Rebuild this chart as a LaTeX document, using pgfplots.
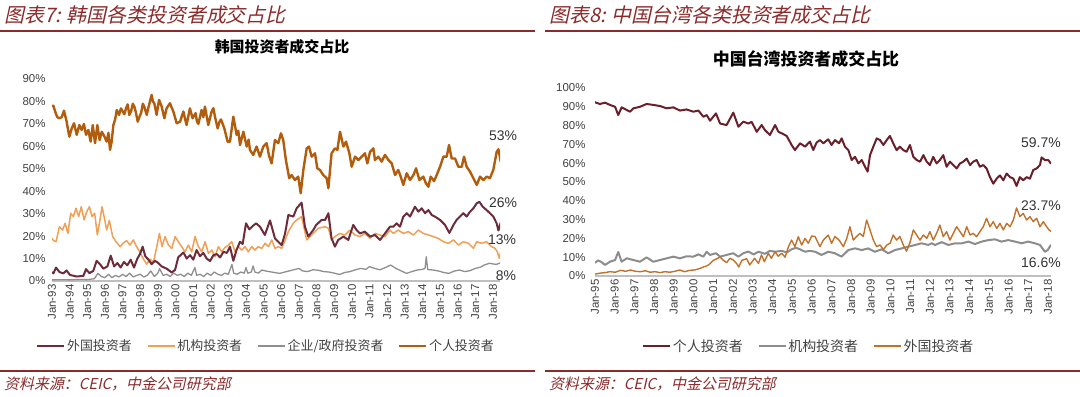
\documentclass[border=0pt]{standalone}
\usepackage{pgfplots}
\pgfplotsset{compat=1.18}
\usepackage{fontspec}
\setmainfont{Liberation Sans}
\newfontfamily\cjk{Noto Sans CJK SC}
\newfontfamily\cjkit{Noto Sans CJK SC}[FakeSlant=0.22]
\definecolor{hdr}{HTML}{8B2A2A}
\definecolor{kind}{HTML}{B25D0E}
\definecolor{kfor}{HTML}{6E2C3A}
\definecolor{kins}{HTML}{F0A055}
\definecolor{kgov}{HTML}{8F8F8F}
\definecolor{tind}{HTML}{6A1F2B}
\definecolor{tins}{HTML}{8C8C8C}
\definecolor{tfor}{HTML}{C0712C}
\definecolor{lbl}{HTML}{404040}
\pgfplotsset{
  common/.style={
    scale only axis, enlargelimits=false,
    axis x line*=bottom, axis y line*=left,
    x axis line style={draw=black!25, line width=1.5bp, -},
    y axis line style={draw=none},
    major tick length=0pt,
    tick label style={font=\fontsize{11.5}{11.5}\selectfont, text=lbl},
    /pgf/number format/assume math mode=true,
    xticklabel style={rotate=90, anchor=east},
    yticklabel style={anchor=east},
    legend style={draw=none, fill=none, font=\cjk\fontsize{13}{15}\selectfont, text=lbl,
      /tikz/every even column/.append style={column sep=13bp}},
    legend columns=4,
    legend image code/.code={\draw[#1, line width=1.6bp] (0bp,0bp) -- (27bp,0bp);},
    every axis plot/.append style={line join=round},
  }
}
\begin{document}
\begin{tikzpicture}[x=1bp,y=1bp]
\useasboundingbox (0,0) rectangle (1080,396);
% ---------------- Korea ----------------
\begin{axis}[common, at={(52bp,115bp)}, anchor=south west,
  width=448bp, height=202bp, xmin=1993, xmax=2018.4, ymin=0, ymax=90,
  ytick={0,10,...,90}, yticklabels={0\%,10\%,20\%,30\%,40\%,50\%,60\%,70\%,80\%,90\%},
  yticklabel style={xshift=-3bp},
  xtick={1993,...,2018},
  xticklabels={Jan-93,Jan-94,Jan-95,Jan-96,Jan-97,Jan-98,Jan-99,Jan-00,Jan-01,Jan-02,Jan-03,Jan-04,Jan-05,Jan-06,Jan-07,Jan-08,Jan-09,Jan-10,Jan-11,Jan-12,Jan-13,Jan-14,Jan-15,Jan-16,Jan-17,Jan-18},
  legend style={at={(0.478,-0.322)}, anchor=center},
]
\addplot[kgov, line width=1.3bp, forget plot] table {
1993.00 0.5
1993.50 0.6
1994.00 0.5
1994.50 0.7
1995.00 0.6
1995.40 1.0
1995.60 3.4
1995.80 2.0
1996.00 1.5
1996.20 3.0
1996.40 1.5
1996.60 2.5
1996.80 1.8
1997.00 3.0
1997.20 2.0
1997.40 3.5
1997.60 1.8
1997.80 2.5
1998.00 3.0
1998.20 1.8
1998.40 2.5
1998.60 4.5
1998.80 2.0
1999.00 3.5
1999.10 5.5
1999.30 2.5
1999.50 3.0
1999.70 2.0
1999.90 3.5
2000.10 2.5
2000.30 3.0
2000.50 2.0
2000.70 3.5
2000.90 2.5
2001.10 6.0
2001.20 2.5
2001.40 3.0
2001.60 2.0
2001.80 3.5
2002.00 2.5
2002.20 4.0
2002.40 3.0
2002.60 2.5
2002.80 3.5
2003.00 3.0
2003.20 7.4
2003.30 3.5
2003.50 3.0
2003.70 4.0
2003.90 3.5
2004.00 6.0
2004.10 3.5
2004.30 4.0
2004.40 6.7
2004.50 4.0
2004.70 3.5
2004.90 4.9
2005.10 4.5
2005.30 4.2
2005.60 3.8
2005.90 3.4
2006.20 4.0
2006.50 4.6
2006.80 5.2
2007.00 5.6
2007.20 4.5
2007.50 4.2
2007.80 5.0
2008.10 4.8
2008.40 4.2
2008.70 4.0
2009.00 3.5
2009.30 2.9
2009.60 3.8
2009.90 4.2
2010.20 5.0
2010.50 5.6
2010.80 5.2
2011.00 6.4
2011.30 5.6
2011.60 5.0
2011.90 6.0
2012.20 7.1
2012.50 5.6
2012.80 4.5
2013.10 3.4
2013.40 4.2
2013.70 4.9
2014.00 5.2
2014.15 5.6
2014.22 10.8
2014.30 5.1
2014.60 4.9
2014.90 4.5
2015.20 3.8
2015.50 3.4
2015.80 4.4
2016.10 4.9
2016.40 4.2
2016.70 4.6
2017.00 5.6
2017.30 6.2
2017.50 7.1
2017.80 7.9
2018.00 7.6
2018.20 7.4
2018.44 8.2
};
\addplot[kins, line width=1.5bp, forget plot] table {
1993.00 19.0
1993.08 18.0
1993.23 17.5
1993.42 24.2
1993.60 22.7
1993.74 25.7
1993.90 21.2
1994.06 30.2
1994.21 28.7
1994.36 32.4
1994.51 28.7
1994.66 33.1
1994.82 27.2
1994.97 30.9
1995.12 33.1
1995.27 28.7
1995.42 30.2
1995.57 20.5
1995.72 27.2
1995.84 33.1
1995.97 28.0
1996.10 22.7
1996.25 27.0
1996.44 19.8
1996.63 17.5
1996.86 15.3
1997.05 17.0
1997.23 18.0
1997.42 16.0
1997.61 18.3
1997.80 15.3
1997.99 12.7
1998.18 9.8
1998.37 7.5
1998.56 9.8
1998.75 8.3
1998.94 15.3
1999.09 21.2
1999.24 15.3
1999.41 19.8
1999.60 16.0
1999.79 14.5
1999.98 19.8
2000.16 17.5
2000.35 15.3
2000.54 13.0
2000.73 16.0
2000.92 13.0
2001.11 19.8
2001.30 15.3
2001.49 13.0
2001.68 17.5
2001.87 12.3
2002.06 13.8
2002.24 10.8
2002.43 15.3
2002.62 13.0
2002.81 15.0
2003.00 16.0
2003.19 17.5
2003.38 13.0
2003.57 15.3
2003.76 13.8
2003.95 15.3
2004.13 13.0
2004.32 15.3
2004.51 13.8
2004.70 15.3
2004.89 14.5
2005.08 16.8
2005.27 15.3
2005.46 18.3
2005.64 14.5
2005.83 15.3
2006.02 14.6
2006.21 18.0
2006.40 22.0
2006.68 25.7
2006.87 27.2
2007.15 28.7
2007.44 18.3
2007.81 21.2
2008.10 23.5
2008.48 24.2
2008.67 23.5
2008.85 18.3
2009.04 19.8
2009.33 21.2
2009.61 20.5
2009.89 22.7
2010.18 20.5
2010.46 19.8
2010.74 21.2
2011.03 19.0
2011.31 21.2
2011.60 20.5
2011.88 19.8
2012.16 22.7
2012.35 21.2
2012.63 22.7
2012.92 21.2
2013.20 22.0
2013.49 20.5
2013.77 22.7
2014.05 21.2
2014.34 20.5
2014.62 19.8
2014.90 19.0
2015.19 17.5
2015.47 16.8
2015.76 18.3
2016.04 16.0
2016.32 17.5
2016.61 16.8
2016.89 14.6
2017.08 17.5
2017.36 16.8
2017.64 17.5
2017.92 15.3
2018.11 14.6
2018.25 13.0
2018.36 10.1
2018.44 13.0
};
\addplot[kfor, line width=2bp, forget plot] table {
1993.00 4.0
1993.08 3.4
1993.23 6.0
1993.42 4.0
1993.64 3.4
1993.83 4.7
1994.02 2.7
1994.40 2.0
1994.78 2.3
1994.93 5.3
1995.12 3.5
1995.34 4.5
1995.53 9.0
1995.72 7.5
1995.91 5.5
1996.14 6.5
1996.33 11.3
1996.52 6.5
1996.71 8.0
1996.89 6.0
1997.08 8.5
1997.27 7.0
1997.46 9.5
1997.65 6.0
1997.84 10.0
1997.99 12.0
1998.14 15.3
1998.29 11.0
1998.46 9.6
1998.65 7.5
1998.84 9.0
1999.03 8.0
1999.22 6.5
1999.50 5.5
1999.79 3.8
1999.98 5.0
2000.16 10.6
2000.45 12.7
2000.64 10.0
2000.83 11.5
2001.01 9.5
2001.20 13.8
2001.39 11.0
2001.58 12.5
2001.77 10.0
2001.96 8.9
2002.15 11.5
2002.34 12.0
2002.53 10.5
2002.72 13.0
2002.91 12.5
2003.09 15.3
2003.28 9.0
2003.47 14.0
2003.66 17.5
2003.81 16.5
2004.00 25.7
2004.19 23.0
2004.38 24.5
2004.57 25.7
2004.79 24.2
2005.07 20.5
2005.36 27.0
2005.64 19.0
2005.83 17.5
2006.02 16.0
2006.21 21.0
2006.40 29.4
2006.68 28.7
2006.87 32.4
2007.15 34.9
2007.34 24.2
2007.53 19.8
2007.81 22.7
2007.98 25.0
2008.29 27.2
2008.48 27.2
2008.67 30.2
2008.85 19.0
2009.04 15.3
2009.23 18.3
2009.52 19.8
2009.80 18.3
2010.08 25.0
2010.27 22.7
2010.46 21.2
2010.74 22.0
2011.03 19.8
2011.31 20.5
2011.60 18.3
2011.88 21.2
2012.16 24.2
2012.35 24.2
2012.54 25.7
2012.73 24.2
2012.92 28.7
2013.11 30.2
2013.30 28.7
2013.58 33.1
2013.77 30.9
2013.96 32.4
2014.15 30.2
2014.34 31.6
2014.53 29.4
2014.71 28.7
2015.00 27.2
2015.28 25.0
2015.53 21.4
2015.76 25.0
2015.94 27.2
2016.13 28.7
2016.32 30.2
2016.51 28.7
2016.70 30.9
2016.89 32.4
2017.08 34.6
2017.23 35.3
2017.42 33.1
2017.64 31.6
2017.83 30.2
2018.02 28.7
2018.21 25.7
2018.31 22.5
2018.44 26.0
};
\addplot[kind, line width=2.4bp, forget plot] table {
1993.00 78.0
1993.08 78.1
1993.20 75.0
1993.30 73.0
1993.42 72.5
1993.55 73.0
1993.68 75.9
1993.83 71.0
1993.98 64.3
1994.12 68.0
1994.25 70.3
1994.40 65.1
1994.55 69.5
1994.68 67.3
1994.81 70.0
1994.93 65.1
1995.06 67.3
1995.19 62.1
1995.31 69.5
1995.44 61.4
1995.57 69.5
1995.70 62.8
1995.82 66.5
1995.96 64.6
1996.10 62.1
1996.20 66.0
1996.29 58.4
1996.38 62.0
1996.48 69.5
1996.58 72.0
1996.67 76.2
1996.80 74.0
1996.91 76.9
1997.10 74.3
1997.20 77.0
1997.29 78.7
1997.38 74.0
1997.48 75.5
1997.58 79.0
1997.67 77.7
1997.76 75.0
1997.86 71.0
1997.95 73.0
1998.05 74.8
1998.15 79.0
1998.23 77.7
1998.37 74.0
1998.50 78.4
1998.65 82.9
1998.72 80.0
1998.80 79.2
1998.93 74.0
1999.07 80.7
1999.22 77.7
1999.37 72.5
1999.50 77.0
1999.69 79.2
1999.80 77.0
1999.88 75.5
2000.07 70.3
2000.26 71.0
2000.45 75.5
2000.55 72.0
2000.63 69.5
2000.82 76.9
2000.97 72.5
2001.14 74.8
2001.22 71.0
2001.30 70.0
2001.48 76.2
2001.58 73.0
2001.67 77.7
2001.86 69.5
2002.05 75.5
2002.15 77.0
2002.24 73.2
2002.39 68.0
2002.50 71.0
2002.58 72.0
2002.77 68.0
2002.96 62.0
2003.09 62.1
2003.28 73.2
2003.47 65.1
2003.56 67.0
2003.66 60.6
2003.85 66.5
2004.04 59.9
2004.15 63.0
2004.22 58.4
2004.41 56.2
2004.50 58.0
2004.60 59.9
2004.79 55.4
2004.98 59.9
2005.17 61.4
2005.30 56.0
2005.45 52.4
2005.64 62.8
2005.83 61.4
2005.98 65.8
2006.11 62.8
2006.26 53.9
2006.45 45.8
2006.59 47.2
2006.77 45.0
2006.96 46.5
2007.10 39.1
2007.25 49.5
2007.44 59.1
2007.57 59.9
2007.72 55.4
2007.91 56.9
2008.04 50.2
2008.19 49.5
2008.38 47.2
2008.57 45.8
2008.67 41.3
2008.85 56.9
2009.04 59.1
2009.18 58.4
2009.33 66.5
2009.52 59.9
2009.67 62.1
2009.86 56.9
2009.99 50.9
2010.18 55.4
2010.37 53.9
2010.56 55.4
2010.74 56.9
2010.88 52.4
2011.03 57.5
2011.22 59.1
2011.31 53.9
2011.50 55.4
2011.69 53.2
2011.88 56.2
2012.07 53.9
2012.26 52.4
2012.45 47.2
2012.63 49.5
2012.77 46.5
2012.92 42.8
2013.11 48.0
2013.30 45.0
2013.49 47.2
2013.64 50.2
2013.83 45.0
2014.05 46.5
2014.20 43.5
2014.34 42.0
2014.47 46.5
2014.66 44.5
2014.81 47.2
2015.00 50.9
2015.19 55.4
2015.38 55.4
2015.51 60.6
2015.66 54.6
2015.85 54.6
2016.04 50.9
2016.23 50.9
2016.36 55.4
2016.51 50.9
2016.70 48.7
2016.89 45.8
2017.08 42.8
2017.27 46.5
2017.46 45.0
2017.64 46.5
2017.83 45.8
2018.02 49.5
2018.21 57.5
2018.31 58.7
2018.44 53.2
};
\addlegendimage{kfor}\addlegendentry{外国投资者}
\addlegendimage{kins}\addlegendentry{机构投资者}
\addlegendimage{kgov}\addlegendentry{企业/政府投资者}
\addlegendimage{kind}\addlegendentry{个人投资者}
\end{axis}
% ---------------- Taiwan ----------------
\begin{axis}[common, at={(595bp,120bp)}, anchor=south west,
  width=456bp, height=188bp, xmin=1995, xmax=2018.15, ymin=0, ymax=100,
  ytick={0,10,...,100}, yticklabels={0\%,10\%,20\%,30\%,40\%,50\%,60\%,70\%,80\%,90\%,100\%},
  yticklabel style={xshift=-6bp},
  xtick={1995,...,2018},
  xticklabels={Jan-95,Jan-96,Jan-97,Jan-98,Jan-99,Jan-00,Jan-01,Jan-02,Jan-03,Jan-04,Jan-05,Jan-06,Jan-07,Jan-08,Jan-09,Jan-10,Jan-11,Jan-12,Jan-13,Jan-14,Jan-15,Jan-16,Jan-17,Jan-18},
  legend style={at={(0.469,-0.372)}, anchor=center, font=\cjk\fontsize{14}{16}\selectfont},
]
\addplot[tins, line width=2bp, forget plot] table {
1995.00 7.0
1995.15 8.3
1995.30 7.6
1995.51 5.9
1995.76 7.6
1996.02 8.5
1996.18 12.8
1996.35 7.6
1996.61 9.4
1996.95 8.5
1997.28 7.6
1997.62 9.9
1997.96 7.6
1998.30 8.5
1998.64 9.4
1998.98 10.3
1999.31 9.4
1999.65 10.5
1999.99 10.3
2000.25 11.5
2000.50 10.3
2000.67 12.9
2000.84 11.2
2001.14 12.1
2001.35 10.3
2001.68 11.2
2002.02 12.1
2002.28 10.3
2002.53 12.1
2002.78 13.0
2003.05 11.5
2003.30 12.9
2003.63 11.8
2003.88 13.4
2004.14 12.9
2004.48 13.4
2004.73 12.5
2004.98 14.2
2005.20 15.0
2005.41 14.2
2005.66 12.9
2005.91 13.4
2006.17 12.9
2006.50 11.2
2006.84 12.9
2007.18 12.1
2007.52 10.3
2007.86 13.8
2008.20 14.7
2008.54 13.8
2008.87 14.7
2009.21 12.9
2009.55 14.2
2009.89 12.1
2010.23 13.8
2010.57 14.7
2010.91 15.6
2011.25 16.5
2011.58 17.4
2011.92 16.5
2012.09 17.4
2012.26 16.5
2012.60 18.0
2012.94 16.5
2013.28 17.4
2013.62 17.4
2013.96 18.3
2014.29 17.0
2014.63 18.3
2014.97 19.1
2015.31 19.5
2015.64 18.3
2015.98 19.1
2016.32 18.3
2016.66 17.4
2016.99 18.3
2017.33 17.4
2017.59 16.5
2017.84 12.9
2017.98 13.8
2018.15 16.6
};
\addplot[tfor, line width=1.4bp, forget plot] table {
1995.00 1.0
1995.25 1.5
1995.50 1.8
1995.76 2.3
1996.02 2.0
1996.30 3.0
1996.55 2.5
1996.80 3.2
1997.05 2.5
1997.30 2.3
1997.55 2.8
1997.80 2.0
1998.05 2.3
1998.30 1.8
1998.55 2.3
1998.80 2.0
1999.05 2.5
1999.30 3.2
1999.55 2.3
1999.80 3.0
2000.05 3.2
2000.30 3.9
2000.50 4.8
2000.70 5.5
2000.84 6.6
2001.00 8.3
2001.15 9.0
2001.35 10.1
2001.50 8.5
2001.68 7.1
2001.85 9.4
2002.02 8.5
2002.20 6.5
2002.30 4.8
2002.45 8.3
2002.70 9.2
2002.85 5.9
2003.10 9.4
2003.30 6.7
2003.45 11.2
2003.60 7.6
2003.80 12.1
2003.95 9.4
2004.14 12.9
2004.30 10.5
2004.48 12.1
2004.65 10.0
2004.82 15.6
2004.98 19.1
2005.15 15.6
2005.32 20.9
2005.49 16.5
2005.66 20.0
2005.83 17.4
2006.00 21.3
2006.17 21.0
2006.42 15.6
2006.59 19.1
2006.84 21.8
2007.01 17.4
2007.18 21.0
2007.39 19.1
2007.61 15.6
2007.78 20.0
2007.94 26.2
2008.11 19.1
2008.28 21.0
2008.45 22.7
2008.62 21.0
2008.79 29.8
2008.96 24.5
2009.13 19.1
2009.30 15.6
2009.47 16.5
2009.64 14.0
2009.81 16.5
2009.98 17.4
2010.14 21.8
2010.31 19.1
2010.48 21.0
2010.65 16.5
2010.82 13.2
2010.99 17.8
2011.16 24.5
2011.33 21.8
2011.50 19.1
2011.67 21.8
2011.84 20.0
2012.00 23.6
2012.17 19.1
2012.34 22.7
2012.51 27.1
2012.68 20.9
2012.85 23.6
2013.02 19.1
2013.19 22.7
2013.36 26.2
2013.53 23.6
2013.70 20.9
2013.87 26.2
2014.04 21.8
2014.20 22.7
2014.37 20.9
2014.54 23.6
2014.71 26.2
2014.88 30.7
2015.05 26.2
2015.22 28.9
2015.39 25.3
2015.56 28.0
2015.73 24.5
2015.90 28.0
2016.07 26.2
2016.24 29.8
2016.40 36.2
2016.57 31.6
2016.74 33.3
2016.91 29.8
2017.08 31.6
2017.25 28.9
2017.42 30.7
2017.59 26.2
2017.76 28.9
2017.93 26.2
2018.05 24.5
2018.15 23.7
};
\addplot[tind, line width=2bp, forget plot] table {
1995.00 92.5
1995.05 92.2
1995.25 91.5
1995.51 92.2
1995.76 91.0
1996.02 90.0
1996.18 85.6
1996.35 89.7
1996.61 88.3
1996.78 87.4
1996.95 89.2
1997.28 90.0
1997.62 91.5
1997.96 91.0
1998.30 90.4
1998.64 89.2
1998.98 89.7
1999.31 88.0
1999.65 88.6
1999.99 87.4
2000.25 88.0
2000.50 84.7
2000.67 85.6
2000.84 82.6
2001.14 86.5
2001.35 81.1
2001.68 80.3
2002.02 86.9
2002.28 79.4
2002.53 82.1
2002.78 81.1
2002.95 82.0
2003.21 76.7
2003.46 80.3
2003.63 77.6
2003.88 75.0
2004.14 80.3
2004.31 76.7
2004.48 75.9
2004.73 74.5
2004.98 69.7
2005.15 67.0
2005.41 70.6
2005.66 68.8
2005.91 71.5
2006.08 67.0
2006.25 71.0
2006.42 72.3
2006.59 70.6
2006.84 72.7
2007.01 69.7
2007.18 72.3
2007.39 70.6
2007.52 73.2
2007.69 68.8
2007.86 67.0
2008.03 61.7
2008.20 63.4
2008.37 59.9
2008.54 61.7
2008.71 58.1
2008.84 55.5
2008.96 64.3
2009.13 68.8
2009.30 73.2
2009.47 72.3
2009.64 69.7
2009.81 72.3
2009.97 74.5
2010.14 70.6
2010.31 67.0
2010.48 68.8
2010.65 67.0
2010.82 66.1
2010.99 69.7
2011.16 63.4
2011.33 61.7
2011.50 60.8
2011.67 64.3
2011.84 60.8
2012.00 59.0
2012.17 63.4
2012.34 59.9
2012.51 61.7
2012.68 64.3
2012.85 58.1
2013.02 60.8
2013.19 59.0
2013.36 57.2
2013.53 59.9
2013.70 60.8
2013.87 62.5
2014.04 59.0
2014.20 60.8
2014.37 61.7
2014.54 58.1
2014.71 59.0
2014.88 57.2
2015.05 52.6
2015.22 49.1
2015.39 51.8
2015.56 53.5
2015.73 50.9
2015.90 54.5
2016.07 52.6
2016.24 51.8
2016.40 47.9
2016.57 52.6
2016.74 50.9
2016.91 52.6
2017.08 51.8
2017.25 56.4
2017.42 57.2
2017.59 59.0
2017.67 63.1
2017.84 61.7
2018.01 61.7
2018.15 59.7
};
\addlegendimage{tind}\addlegendentry{个人投资者}
\addlegendimage{tins}\addlegendentry{机构投资者}
\addlegendimage{tfor}\addlegendentry{外国投资者}
\end{axis}
% ---------------- decorations ----------------
\node[anchor=west, text=hdr, font=\cjkit\fontsize{20}{20}\selectfont, inner sep=0] at (4,381) {图表7: 韩国各类投资者成交占比};
\node[anchor=west, text=hdr, font=\cjkit\fontsize{20}{20}\selectfont, inner sep=0] at (549,381) {图表8: 中国台湾各类投资者成交占比};
\draw[hdr, line width=1.8bp] (0,365) -- (535,365);
\draw[hdr, line width=1.8bp] (545,365) -- (1080,365);
\draw[hdr, line width=1.8bp] (0,25) -- (535,25);
\draw[hdr, line width=1.8bp] (545,25) -- (1080,25);
\node[anchor=west, text=hdr, font=\cjkit\fontsize{15}{15}\selectfont, inner sep=0] at (4,12) {资料来源：CEIC，中金公司研究部};
\node[anchor=west, text=hdr, font=\cjkit\fontsize{15}{15}\selectfont, inner sep=0] at (549,12) {资料来源：CEIC，中金公司研究部};
\node[font=\cjk\bfseries\fontsize{15}{15}\selectfont, inner sep=0] at (282,349) {韩国投资者成交占比};
\node[font=\cjk\bfseries\fontsize{17}{17}\selectfont, inner sep=0] at (806,337) {中国台湾投资者成交占比};
\begin{scope}[every node/.style={font=\fontsize{14}{14}\selectfont, text=black!80, inner sep=0}]
\node at (503,260) {53\%};
\node at (503,193) {26\%};
\node at (502,156) {13\%};
\node at (506,120) {8\%};
\node at (1041,253) {59.7\%};
\node at (1041,190) {23.7\%};
\node at (1041,133) {16.6\%};
\end{scope}
\end{tikzpicture}
\end{document}
